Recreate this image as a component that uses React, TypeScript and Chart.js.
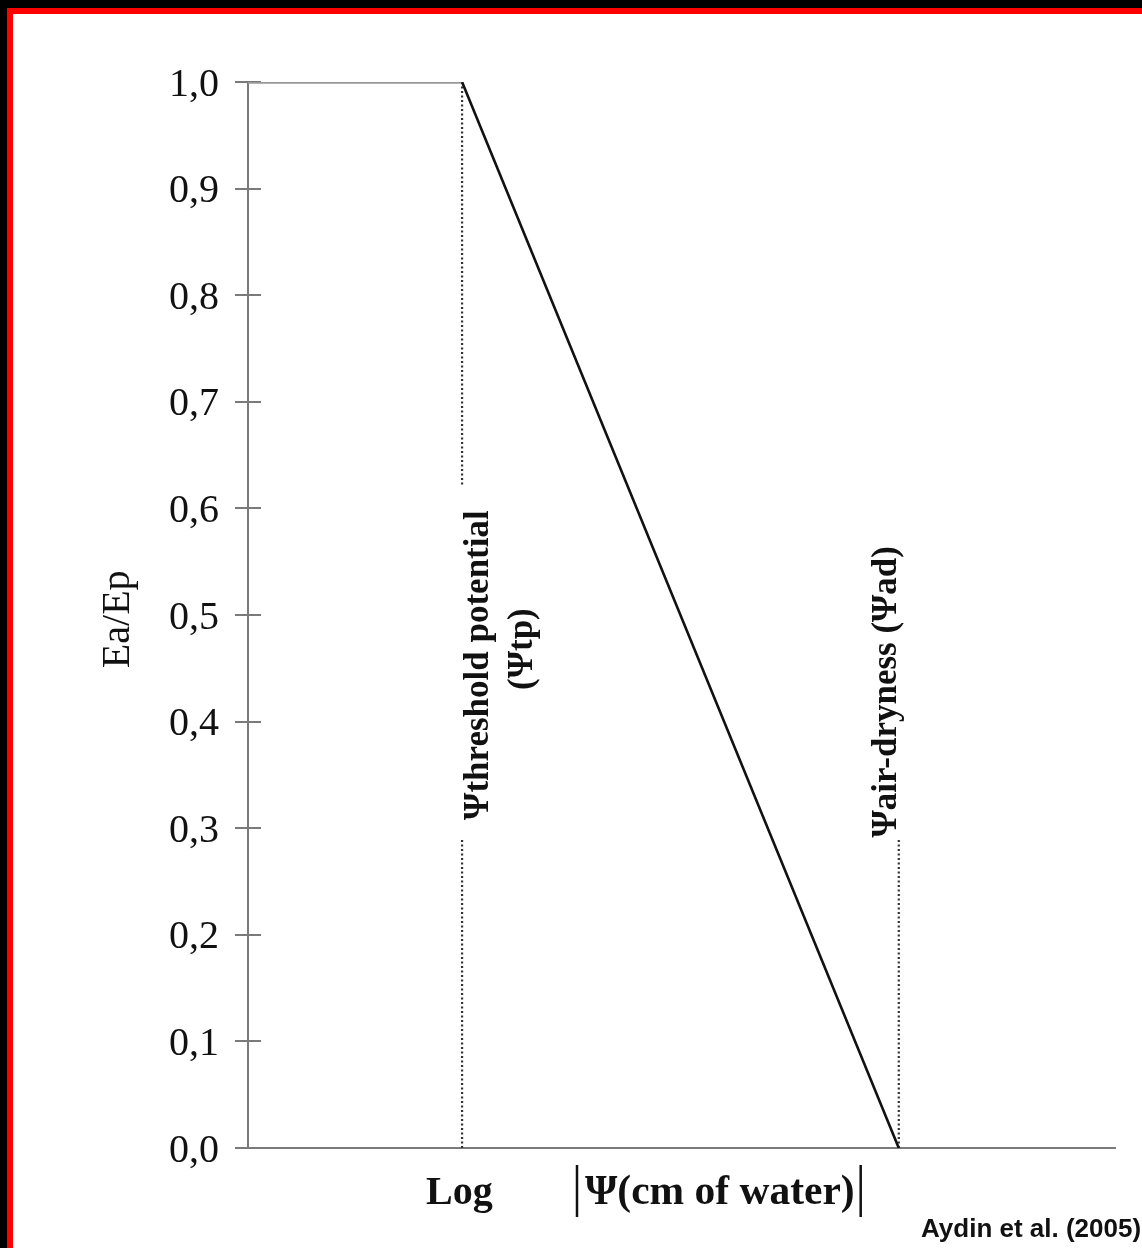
import React, { useEffect, useRef } from "react";
import { Chart, registerables } from "chart.js";

Chart.register(...registerables);

// Relative evaporation Ea/Ep against log |Ψ| (arbitrary log units on x)
const yTickValues = [0, 0.1, 0.2, 0.3, 0.4, 0.5, 0.6, 0.7, 0.8, 0.9, 1.0];
const plateauX = [0, 2.0];
const plateauY = [1.0, 1.0];
const declineX = [2.0, 6.08];
const declineY = [1.0, 0.0];
const thresholdPsi = 2.0;
const airDryPsi = 6.08;
const markerUpperEnd = 0.62; // dotted marker stops below 1,0 here
const markerLowerStart = 0.289; // and resumes here down to 0,0
const xMax = 8.1;

const thresholdLabel = ["Ψthreshold potential", "(Ψtp)"];
const airDryLabel = "Ψair-dryness (Ψad)";
const yTitle = "Ea/Ep";
const xTitleLog = "Log";
const xTitlePsi = "Ψ(cm of water)";
const sourceNote = "Aydin et al. (2005)";

const pts = (xs: number[], ys: number[]) => xs.map((x, i) => ({ x, y: ys[i] }));

export default function App() {
  const ref = useRef<HTMLCanvasElement | null>(null);

  useEffect(() => {
    if (!ref.current) return;
    const serif = "'Liberation Serif', 'Times New Roman', serif";

    const annotations = {
      id: "annotations",
      beforeDatasetsDraw(chart: any) {
        const { ctx } = chart;
        const y = chart.scales.y;
        const left = chart.chartArea.left;
        ctx.save();
        ctx.strokeStyle = "#7a7a7a";
        ctx.lineWidth = 2;
        yTickValues.forEach((v) => {
          const py = Math.round(y.getPixelForValue(v));
          ctx.beginPath();
          ctx.moveTo(left - 13, py);
          ctx.lineTo(left + 13, py);
          ctx.stroke();
        });
        ctx.restore();
      },
      afterDraw(chart: any) {
        const { ctx } = chart;
        const x = chart.scales.x;
        const y = chart.scales.y;
        ctx.save();
        ctx.fillStyle = "#111";

        // y title, rotated
        ctx.font = `40px ${serif}`;
        ctx.textAlign = "center";
        ctx.textBaseline = "middle";
        ctx.save();
        ctx.translate(118, y.getPixelForValue(0.496));
        ctx.rotate(-Math.PI / 2);
        ctx.fillText(yTitle, 0, 0);
        ctx.restore();

        // threshold potential label
        const tx = x.getPixelForValue(thresholdPsi);
        ctx.font = `bold 35px ${serif}`;
        ctx.save();
        ctx.translate(tx + 17, y.getPixelForValue(0.453));
        ctx.rotate(-Math.PI / 2);
        ctx.fillText(thresholdLabel[0], 0, 0);
        ctx.restore();
        ctx.save();
        ctx.translate(tx + 61, y.getPixelForValue(0.468));
        ctx.rotate(-Math.PI / 2);
        ctx.fillText(thresholdLabel[1], 0, 0);
        ctx.restore();

        // air-dryness label
        const ax = x.getPixelForValue(airDryPsi);
        ctx.save();
        ctx.translate(ax - 12, y.getPixelForValue(0.428));
        ctx.rotate(-Math.PI / 2);
        ctx.fillText(airDryLabel, 0, 0);
        ctx.restore();

        // x title: Log |Ψ(cm of water)|
        ctx.textAlign = "left";
        ctx.textBaseline = "alphabetic";
        ctx.font = `bold 40px ${serif}`;
        ctx.fillText(xTitleLog, 426, 1204);
        ctx.font = `bold 41.5px ${serif}`;
        const psiStart = 585;
        ctx.fillText(xTitlePsi, psiStart, 1204);
        const w = ctx.measureText(xTitlePsi).width;
        ctx.strokeStyle = "#111";
        ctx.lineWidth = 2.5;
        [psiStart - 8, psiStart + w + 6].forEach((bx) => {
          ctx.beginPath();
          ctx.moveTo(bx, 1165);
          ctx.lineTo(bx, 1217);
          ctx.stroke();
        });

        // source note
        ctx.font = "bold 26px 'Liberation Sans', Arial, sans-serif";
        ctx.fillText(sourceNote, 921, 1237);
        ctx.restore();
      },
    };

    const dotted = {
      borderColor: "#333",
      borderWidth: 2.2,
      borderDash: [2, 2.5],
      pointRadius: 0,
      showLine: true,
      fill: false,
    };

    const chart = new Chart(ref.current, {
      type: "scatter",
      data: {
        datasets: [
          {
            data: pts(declineX, declineY),
            borderColor: "#111",
            borderWidth: 2.6,
            pointRadius: 0,
            showLine: true,
          },
          {
            data: pts(plateauX, plateauY),
            borderColor: "#999",
            borderWidth: 3.4,
            pointRadius: 0,
            showLine: true,
          },
          { ...dotted, data: pts([thresholdPsi, thresholdPsi], [1.0, markerUpperEnd]) },
          { ...dotted, data: pts([thresholdPsi, thresholdPsi], [markerLowerStart, 0]) },
          { ...dotted, data: pts([airDryPsi, airDryPsi], [markerLowerStart, 0]) },
        ] as any,
      },
      options: {
        animation: false,
        responsive: false,
        events: [],
        layout: { padding: { top: 82, right: 27, left: 0, bottom: 0 } },
        plugins: { legend: { display: false }, tooltip: { enabled: false } },
        scales: {
          x: {
            type: "linear",
            min: 0,
            max: xMax,
            grid: { display: false },
            ticks: { display: false },
            border: { display: true, color: "#7a7a7a", width: 2 },
            afterFit(scale: any) {
              scale.height = 100;
            },
          },
          y: {
            type: "linear",
            min: 0,
            max: 1,
            grid: { display: false },
            border: { display: true, color: "#7a7a7a", width: 2 },
            afterBuildTicks(scale: any) {
              scale.ticks = yTickValues.map((value) => ({ value }));
            },
            afterFit(scale: any) {
              scale.width = 248;
            },
            ticks: {
              padding: 21,
              labelOffset: 3,
              color: "#111",
              font: { family: serif, size: 40 },
              callback: (v: any) => Number(v).toFixed(1).replace(".", ","),
            },
          },
        },
      },
      plugins: [annotations],
    });
    return () => chart.destroy();
  }, []);

  return (
    <div
      style={{
        position: "fixed",
        left: 0,
        top: 0,
        width: 1142,
        height: 1248,
        background: "#000",
        overflow: "hidden",
      }}
    >
      <div
        style={{
          position: "absolute",
          left: 7,
          top: 8,
          width: 1200,
          height: 1300,
          background: "#ff0000",
        }}
      />
      <div
        style={{
          position: "absolute",
          left: 13,
          top: 14,
          width: 1200,
          height: 1300,
          background: "#fff",
        }}
      />
      <canvas
        ref={ref}
        width={1142}
        height={1248}
        style={{ position: "absolute", left: 0, top: 0, width: 1142, height: 1248 }}
      />
    </div>
  );
}
